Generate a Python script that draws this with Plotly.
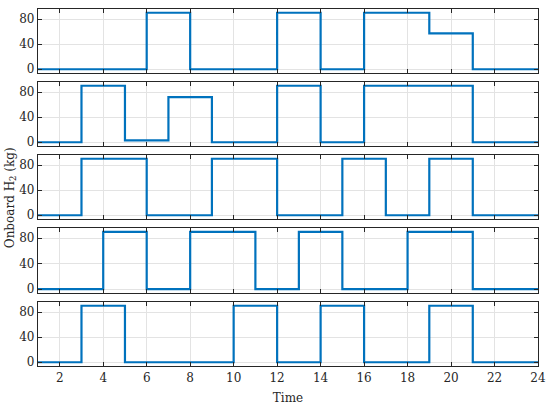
# Onboard H2 per vehicle, 5 stacked step plots

import plotly.graph_objects as go
from plotly.subplots import make_subplots

hours = list(range(1, 25))

# hourly values (value held from t to t+1, last point repeats)
veh1 = [0, 0, 0, 0, 0, 90, 90, 0, 0, 0, 0, 90, 90, 0, 0, 90, 90, 90, 57, 57, 0, 0, 0, 0]
veh2 = [0, 0, 90, 90, 3, 3, 72, 72, 0, 0, 0, 90, 90, 0, 0, 90, 90, 90, 90, 90, 0, 0, 0, 0]
veh3 = [0, 0, 90, 90, 90, 0, 0, 0, 90, 90, 90, 0, 0, 0, 90, 90, 0, 0, 90, 90, 0, 0, 0, 0]
veh4 = [0, 0, 0, 90, 90, 0, 0, 90, 90, 90, 0, 0, 90, 90, 0, 0, 0, 90, 90, 90, 0, 0, 0, 0]
veh5 = [0, 0, 90, 90, 0, 0, 0, 0, 0, 90, 90, 0, 0, 90, 90, 0, 0, 0, 90, 90, 0, 0, 0, 0]
series = [veh1, veh2, veh3, veh4, veh5]

xticks = list(range(2, 25, 2))
yticks = [0, 40, 80]

font = "DejaVu Serif"
txtcol = "#262626"
axcol = "#262626"
gridcol = "#e3e3e3"

fig = make_subplots(rows=5, cols=1, shared_xaxes=True)

for i, s in enumerate(series):
    fig.add_trace(go.Scatter(x=hours, y=s, mode="lines", line_shape="hv",
                             line=dict(color="#0072BD", width=2.2),
                             showlegend=False), row=i + 1, col=1)

# panel pixel extents (top, bottom) inside the plot area
panels = [(9, 73), (82, 146), (155, 219), (228, 293), (302, 366)]
top_px, bot_px = 9, 366
h = bot_px - top_px

for i, (pt, pb) in enumerate(panels):
    d0 = (bot_px - pb) / h
    d1 = (bot_px - pt) / h
    fig.update_yaxes(domain=[d0, d1], range=[-6, 96], tickvals=yticks,
                     row=i + 1, col=1)
    fig.update_xaxes(range=[1, 24], tickvals=xticks,
                     showticklabels=(i == 4), row=i + 1, col=1)

fig.update_xaxes(showline=True, mirror="ticks", linecolor=axcol, linewidth=1.2,
                 ticks="inside", ticklen=4, tickcolor=axcol,
                 showgrid=True, gridcolor=gridcol, gridwidth=1, zeroline=False,
                 automargin=False,
                 tickfont=dict(family=font, size=12, color=txtcol))
fig.update_yaxes(showline=True, mirror="ticks", linecolor=axcol, linewidth=1.2,
                 ticks="inside", ticklen=4, tickcolor=axcol,
                 showgrid=True, gridcolor=gridcol, gridwidth=1, zeroline=False,
                 automargin=False,
                 tickfont=dict(family=font, size=12, color=txtcol))

fig.update_xaxes(title=dict(text="Time", font=dict(family=font, size=12, color=txtcol),
                            standoff=10), row=5, col=1)

fig.add_annotation(text="Onboard H<sub>2</sub> (kg)", xref="paper", yref="paper",
                   x=-0.054, y=0.47, xanchor="center", yanchor="middle",
                   textangle=-90, showarrow=False,
                   font=dict(family=font, size=12, color=txtcol))

fig.update_layout(width=550, height=411, plot_bgcolor="white", paper_bgcolor="white",
                  margin=dict(l=38, r=12, t=9, b=45))

# drop the default 8px page margin so the figure fills the window
fig.write_html("out.html", config={"displayModeBar": False, "responsive": False},
               post_script="document.body.style.margin='0';"
                           "document.body.style.overflow='hidden';")
